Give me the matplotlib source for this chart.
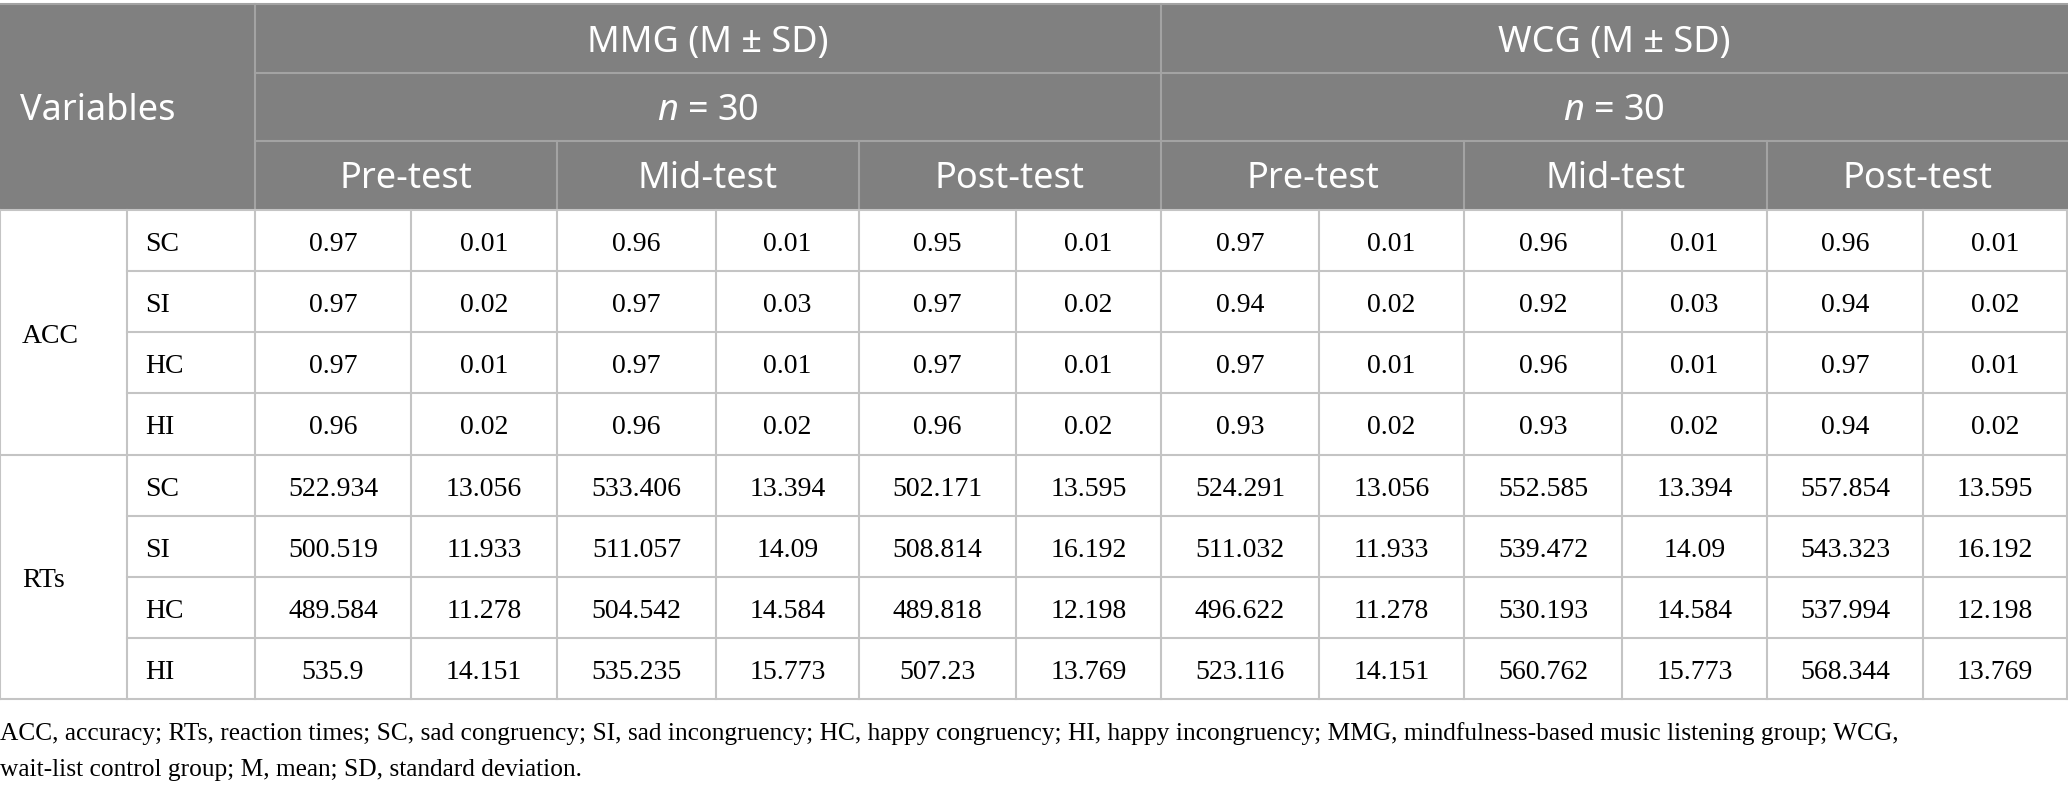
import matplotlib
matplotlib.use("Agg")
import matplotlib.pyplot as plt

plt.rcParams['mathtext.fontset'] = 'custom'
plt.rcParams['mathtext.rm'] = 'Noto Sans'
plt.rcParams['mathtext.it'] = 'Noto Sans:italic'

# table data
groups = ["MMG (M ± SD)", "WCG (M ± SD)"]
group_n = [r"$n$ = 30", r"$n$ = 30"]
phases = ["Pre-test", "Mid-test", "Post-test"]
measures = ["ACC", "RTs"]
conditions = ["SC", "SI", "HC", "HI"]

# each row: MMG pre M, SD, mid M, SD, post M, SD, WCG pre M, SD, mid M, SD, post M, SD
acc_rows = [
    ["0.97", "0.01", "0.96", "0.01", "0.95", "0.01", "0.97", "0.01", "0.96", "0.01", "0.96", "0.01"],
    ["0.97", "0.02", "0.97", "0.03", "0.97", "0.02", "0.94", "0.02", "0.92", "0.03", "0.94", "0.02"],
    ["0.97", "0.01", "0.97", "0.01", "0.97", "0.01", "0.97", "0.01", "0.96", "0.01", "0.97", "0.01"],
    ["0.96", "0.02", "0.96", "0.02", "0.96", "0.02", "0.93", "0.02", "0.93", "0.02", "0.94", "0.02"],
]
rt_rows = [
    ["522.934", "13.056", "533.406", "13.394", "502.171", "13.595", "524.291", "13.056", "552.585", "13.394", "557.854", "13.595"],
    ["500.519", "11.933", "511.057", "14.09", "508.814", "16.192", "511.032", "11.933", "539.472", "14.09", "543.323", "16.192"],
    ["489.584", "11.278", "504.542", "14.584", "489.818", "12.198", "496.622", "11.278", "530.193", "14.584", "537.994", "12.198"],
    ["535.9", "14.151", "535.235", "15.773", "507.23", "13.769", "523.116", "14.151", "560.762", "15.773", "568.344", "13.769"],
]
footnote = ["ACC, accuracy; RTs, reaction times; SC, sad congruency; SI, sad incongruency; HC, happy congruency; HI, happy incongruency; MMG, mindfulness-based music listening group; WCG,",
            "wait-list control group; M, mean; SD, standard deviation."]

W, H = 2068, 790
fig = plt.figure(figsize=(W / 100, H / 100), dpi=100)
ax = fig.add_axes([0, 0, 1, 1])
ax.set_xlim(0, W)
ax.set_ylim(H, 0)
ax.axis('off')

head_bg = '#808080'
head_line = '#a3a3a3'
grid = '#c4c4c4'
sans = 'Noto Sans'
serif = 'Liberation Serif'

# column edges
xs = [0, 127, 255, 411, 557, 716, 859, 1016, 1161, 1319, 1464, 1622, 1767, 1923, 2067]
top = 4
hy = [top, 73, 141, 210]
row_h = (699 - 210) / 8
by = [210 + i * row_h for i in range(9)]

# header background
ax.add_patch(plt.Rectangle((0, top), W, hy[3] - top, color=head_bg, lw=0))
ax.plot([0, xs[-1]], [top, top], color=head_line, lw=1.5)
for y in hy[1:3]:
    ax.plot([xs[2], xs[-1]], [y, y], color=head_line, lw=1.5)
ax.plot([xs[2], xs[2]], [top, hy[3]], color=head_line, lw=1.5)
ax.plot([xs[8], xs[8]], [top, hy[3]], color=head_line, lw=1.5)
for k in (4, 6, 10, 12):
    ax.plot([xs[k], xs[k]], [hy[2], hy[3]], color=head_line, lw=1.5)

hs = 26
hdy = 4
ax.text(20, (top + hy[3]) / 2 + hdy, "Variables", color='white', fontsize=hs, family=sans,
        ha='left', va='center')
for g in range(2):
    x0, x1 = xs[2 + 6 * g], xs[8 + 6 * g]
    ax.text((x0 + x1) / 2, (hy[0] + hy[1]) / 2 + hdy, groups[g], color='white', fontsize=hs,
            family=sans, ha='center', va='center')
    ax.text((x0 + x1) / 2, (hy[1] + hy[2]) / 2 + hdy, group_n[g], color='white', fontsize=hs,
            family=sans, ha='center', va='center')
    for p in range(3):
        a, b = xs[2 + 6 * g + 2 * p], xs[4 + 6 * g + 2 * p]
        ax.text((a + b) / 2, (hy[2] + hy[3]) / 2 + hdy, phases[p], color='white', fontsize=hs,
                family=sans, ha='center', va='center')

# body grid
for i, y in enumerate(by):
    x_start = 0 if i in (0, 4, 8) else xs[1]
    ax.plot([x_start, xs[-1]], [y, y], color=grid, lw=1.5)
for k, x in enumerate(xs):
    ax.plot([x, x], [by[0], by[-1]], color=grid, lw=1.5)

bs = 20
bdy = 4
body = acc_rows + rt_rows
for m in range(2):
    ax.text(22, (by[4 * m] + by[4 * m + 4]) / 2 + bdy, measures[m], fontsize=bs, family=serif,
            ha='left', va='center')
for r, vals in enumerate(body):
    yc = (by[r] + by[r + 1]) / 2 + bdy
    ax.text(145, yc, conditions[r % 4], fontsize=bs, family=serif, ha='left', va='center')
    for c, v in enumerate(vals):
        ax.text((xs[2 + c] + xs[3 + c]) / 2, yc, v, fontsize=bs, family=serif,
                ha='center', va='center')

ax.text(0, 734, footnote[0], fontsize=18.3, family=serif, ha='left', va='center')
ax.text(0, 770, footnote[1], fontsize=18.3, family=serif, ha='left', va='center')

fig.savefig("out.png", dpi=100, facecolor='white')
